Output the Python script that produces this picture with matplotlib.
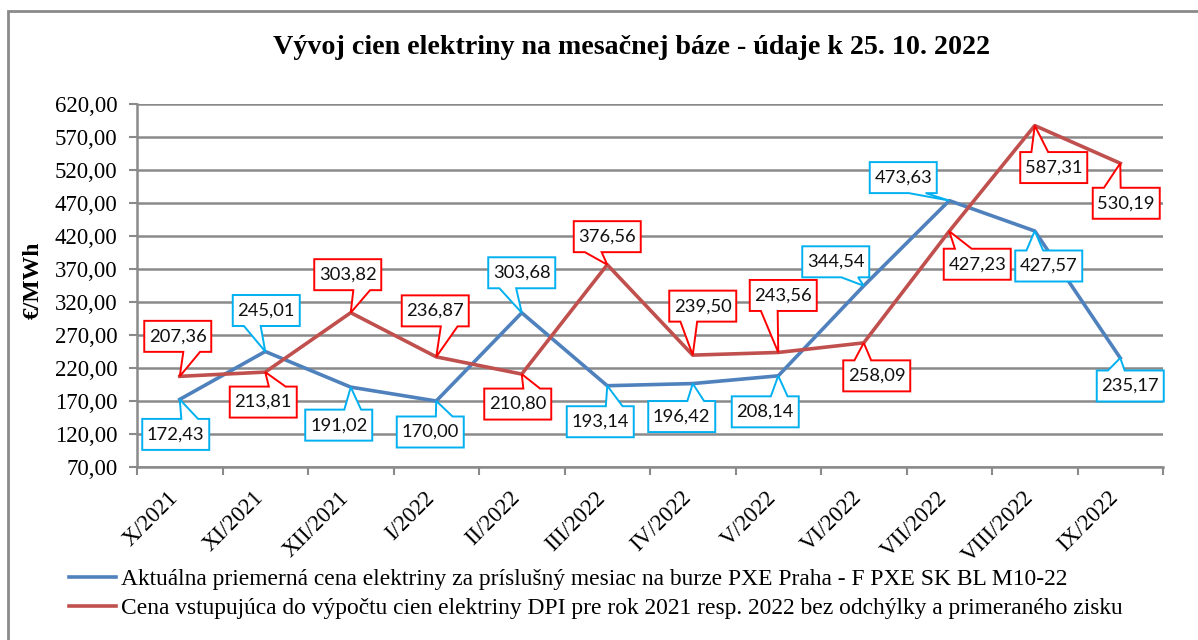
import numpy as np
import matplotlib

matplotlib.use("Agg")
import matplotlib.pyplot as plt
from matplotlib.patches import Polygon, Rectangle
from matplotlib.transforms import IdentityTransform

months = ["X/2021", "XI/2021", "XII/2021", "I/2022", "II/2022", "III/2022",
          "IV/2022", "V/2022", "VI/2022", "VII/2022", "VIII/2022", "IX/2022"]
pxe = [172.43, 245.01, 191.02, 170.00, 303.68, 193.14,
       196.42, 208.14, 344.54, 473.63, 427.57, 235.17]
dpi_price = [207.36, 213.81, 303.82, 236.87, 210.80, 376.56,
             239.50, 243.56, 258.09, 427.23, 587.31, 530.19]
label_pxe = "Aktuálna priemerná cena elektriny za príslušný mesiac na burze PXE Praha - F PXE SK BL M10-22"
label_dpi = "Cena vstupujúca do výpočtu cien elektriny DPI pre rok 2021 resp. 2022 bez odchýlky a primeraného zisku"
yticks = np.arange(70, 621, 50)

# callout box offsets from the point, in pixels (x right, y down)
off_pxe = [(-4, 35), (1, -41), (-12, 38), (-6, 31), (0, -40), (-7, 36),
           (-11, 33), (-13, 36), (-28, -24), (-46, -23), (14, 35), (10, 28)]
off_dpi = [(-2, -40), (-2, 30), (-3, -38), (-1, -46), (-4, 30), (0, -28),
           (10, -49), (5, -57), (13, 33), (28, 33), (19, 42), (6, 40)]

W, H = 1198, 640
SERIF = "Liberation Serif"
GRID = "#8a8a8a"

fig = plt.figure(figsize=(W / 100, H / 100), dpi=100)
ax = fig.add_axes([137 / W, 1 - 467 / H, (1163 - 137) / W, (467 - 104) / H])

x = np.arange(len(months)) + 0.5
l1, = ax.plot(x, pxe, color="#4F81BD", lw=2.6, solid_joinstyle="round", zorder=3)
l2, = ax.plot(x, dpi_price, color="#C0504D", lw=2.6, solid_joinstyle="round", zorder=3)

ax.set_xlim(0, len(months))
ax.set_ylim(70, 620)
ax.set_yticks(yticks)
ax.set_yticklabels([f"{v:.2f}".replace(".", ",") for v in yticks],
                   fontfamily=SERIF, fontsize=16.5)
ax.set_xticks(np.arange(len(months) + 1))
ax.set_xticklabels([])
ax.tick_params(axis="both", direction="out", length=6, width=1.5, color=GRID)
ax.tick_params(axis="y", pad=8)
ax.yaxis.grid(True, color=GRID, lw=1.8)
ax.set_axisbelow(True)
for s in ["top", "right"]:
    ax.spines[s].set_visible(False)
for s in ["left", "bottom"]:
    ax.spines[s].set_color(GRID)
    ax.spines[s].set_linewidth(1.8)

for xi, m in zip(x, months):
    ax.annotate(m, (xi, 0), xycoords=("data", "axes fraction"),
                xytext=(-3.5, -20), textcoords="offset points",
                rotation=45, ha="right", va="center", rotation_mode="anchor",
                fontfamily=SERIF, fontsize=16.5, annotation_clip=False)

ax.set_ylabel("€/MWh", fontfamily=SERIF, fontsize=17, fontweight="bold")
ax.yaxis.set_label_coords(-(137 - 44) / 1026, 0.515)

fig.text(632 / W, 1 - 48 / H, "Vývoj cien elektriny na mesačnej báze - údaje k 25. 10. 2022",
         ha="center", va="center", fontfamily=SERIF, fontsize=20.2, fontweight="bold")

fig.canvas.draw()


def callout(xv, yv, dx, dy, edge, text, bw=67, bh=31):
    tx, ty = ax.transData.transform((xv, yv))
    cx, cy = tx + dx, ty - dy
    x0, x1 = cx - bw / 2, cx + bw / 2
    y0, y1 = cy - bh / 2, cy + bh / 2
    ddx, ddy = tx - cx, ty - cy
    if abs(ddy) > abs(ddx) * bh / bw:
        if ddx > 0:
            b0, b1 = x0 + bw * 7 / 12, x0 + bw * 5 / 6
        else:
            b0, b1 = x0 + bw / 6, x0 + bw * 5 / 12
        if ddy > 0:
            pts = [(x0, y1), (b0, y1), (tx, ty), (b1, y1), (x1, y1), (x1, y0), (x0, y0)]
        else:
            pts = [(x0, y1), (x1, y1), (x1, y0), (b1, y0), (tx, ty), (b0, y0), (x0, y0)]
    else:
        if ddy > 0:
            b0, b1 = y1 - bh * 5 / 12, y1 - bh / 6
        else:
            b0, b1 = y1 - bh * 5 / 6, y1 - bh * 7 / 12
        if ddx > 0:
            pts = [(x0, y1), (x1, y1), (x1, b1), (tx, ty), (x1, b0), (x1, y0), (x0, y0)]
        else:
            pts = [(x0, y1), (x1, y1), (x1, y0), (x0, y0), (x0, b0), (tx, ty), (x0, b1)]
    fig.add_artist(Polygon(pts, closed=True, facecolor="white", edgecolor=edge,
                           lw=1.4, transform=IdentityTransform(), zorder=5))
    fig.text(cx / W, cy / H, text, ha="center", va="center", fontfamily="Lato",
             fontsize=13.2, color="#111111", zorder=6)


for xi, v, (dx, dy) in zip(x, pxe, off_pxe):
    callout(xi, v, dx, dy, "#00B0F0", f"{v:.2f}".replace(".", ","))
for xi, v, (dx, dy) in zip(x, dpi_price, off_dpi):
    callout(xi, v, dx, dy, "#FF0000", f"{v:.2f}".replace(".", ","))

fig.legend([l1, l2], [label_pxe, label_dpi], loc="upper left",
           bbox_to_anchor=(69 / W, 1 - 569 / H), frameon=False,
           prop={"family": SERIF, "size": 16.9}, handlelength=2.0,
           handletextpad=0.2, labelspacing=0.3, borderpad=0, borderaxespad=0)

# chart area border
fig.add_artist(Rectangle((8 / W, -0.05), 1.2, 1 - 11 / H + 0.05, fill=False,
                         edgecolor=GRID, lw=2, transform=fig.transFigure))

fig.savefig("out.png", dpi=100)
